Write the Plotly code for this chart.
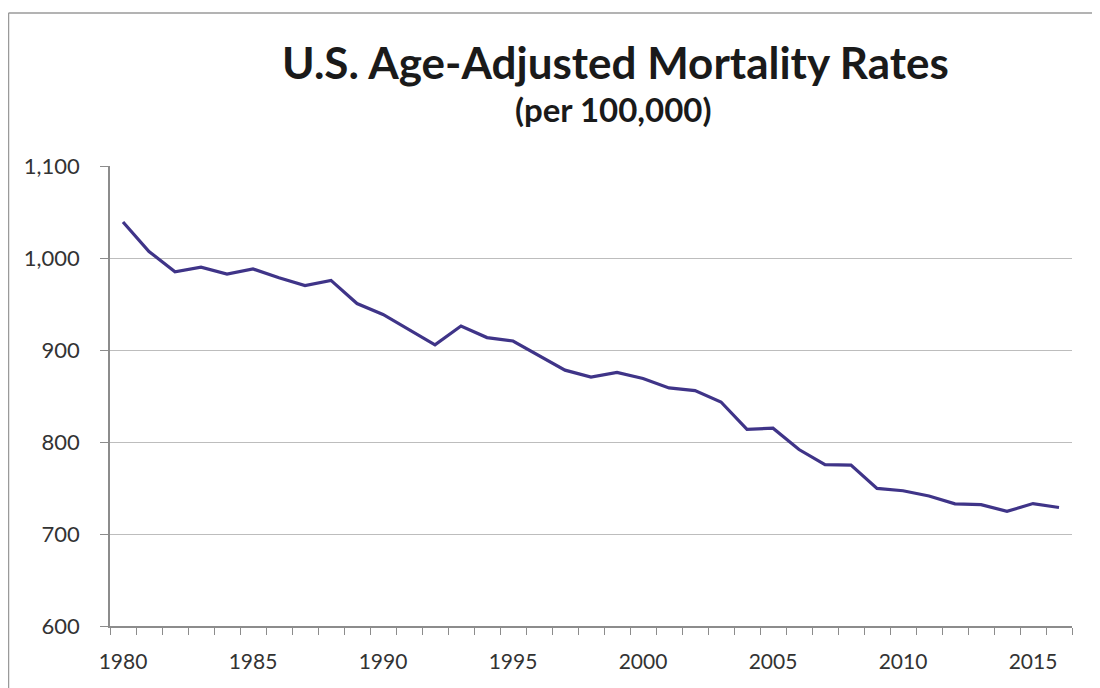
import plotly.graph_objects as go

# age-adjusted death rate per 100,000
YEARS = list(range(1980, 2017))
RATES = [
    1039.1, 1007.1, 985.0, 990.0, 982.5, 988.1, 978.6, 970.0, 975.7, 950.5,
    938.7, 922.3, 905.6, 926.1, 913.5, 909.8, 894.1, 878.1, 870.6, 875.6,
    869.0, 858.8, 855.9, 843.5, 813.7, 815.0, 791.8, 775.3, 774.9, 749.6,
    747.0, 741.3, 732.8, 731.9, 724.6, 733.1, 728.8,
]
X_LABELS = [1980, 1985, 1990, 1995, 2000, 2005, 2010, 2015]
Y_TICKS = [600, 700, 800, 900, 1000, 1100]

C_LINE = "#3f3488"
C_AXIS = "#8c8c8c"
C_GRID = "#bdbdbd"
C_TEXT = "#333333"
FONT = "Lato, 'Open Sans', sans-serif"

# page body adds an 8px offset, so the figure is laid out 8px up/left
# and sized to fit the window without scrollbars
OFF = 8
W, H = 1100 - OFF, 688 - OFF
L, T = 110 - OFF, 166 - OFF
pw, ph = 962, 460
R, B = W - L - pw, H - T - ph


def px(x):   # page pixel -> paper x
    return (x - OFF - L) / pw


def py(y):   # page pixel -> paper y
    return (T + ph - (y - OFF)) / ph


fig = go.Figure(go.Scatter(
    x=YEARS, y=RATES, mode="lines",
    line=dict(color=C_LINE, width=3.2),
    hovertemplate="%{x}: %{y:,.1f}<extra></extra>",
))

fig.update_layout(
    width=W, height=H,
    paper_bgcolor="white", plot_bgcolor="white",
    margin=dict(l=L, r=R, t=T, b=B),
    font=dict(family=FONT, color=C_TEXT),
    showlegend=False,
    xaxis=dict(
        range=[1979.5, 2016.5],
        tickvals=X_LABELS, ticktext=[str(v) for v in X_LABELS],
        ticks="", showgrid=False, ticklabelstandoff=16,
        showline=True, linecolor=C_AXIS, linewidth=1.5,
        tickfont=dict(size=21, color=C_TEXT),
        minor=dict(tick0=1979.5, dtick=1, ticks="outside", ticklen=7,
                   tickcolor=C_AXIS, showgrid=False),
        zeroline=False,
    ),
    yaxis=dict(
        range=[600, 1100], tickvals=Y_TICKS, tickformat=",",
        ticks="outside", ticklen=8, tickcolor=C_AXIS, ticklabelstandoff=16,
        showline=True, linecolor=C_AXIS, linewidth=1.5,
        showgrid=True, gridcolor=C_GRID, gridwidth=1,
        tickfont=dict(size=22, color=C_TEXT),
        zeroline=False,
    ),
)

# outer chart frame like the spreadsheet chart box (only top/left visible)
frame = dict(type="line", xref="paper", yref="paper",
             line=dict(color="#9a9a9a", width=1.5), layer="below")
fig.add_shape(x0=px(8.5), x1=px(1100), y0=py(13), y1=py(13), **frame)
fig.add_shape(x0=px(8.5), x1=px(8.5), y0=py(13), y1=py(688), **frame)

fig.add_annotation(
    text="<b>U.S. Age-Adjusted Mortality Rates</b>",
    xref="paper", yref="paper", x=px(615), y=py(62),
    xanchor="center", yanchor="middle",
    showarrow=False, font=dict(size=44, color="#1a1a1a", family=FONT),
)
fig.add_annotation(
    text="<b>(per 100,000)</b>",
    xref="paper", yref="paper", x=px(613), y=py(109),
    xanchor="center", yanchor="middle",
    showarrow=False, font=dict(size=33, color="#1a1a1a", family=FONT),
)

fig.write_html("out.html")
